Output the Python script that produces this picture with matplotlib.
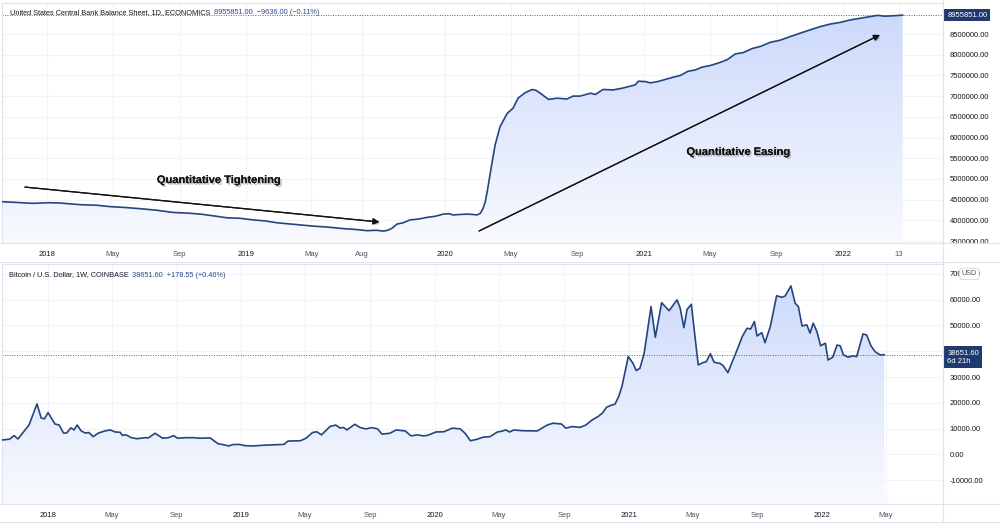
import matplotlib
matplotlib.use('Agg')
import matplotlib.pyplot as plt
import matplotlib.patheffects as pe
from matplotlib.lines import Line2D
from matplotlib.ticker import FuncFormatter
from matplotlib.transforms import Bbox, TransformedBbox
import numpy as np
import pandas as pd

plt.rcParams['font.family'] = ['Liberation Sans', 'DejaVu Sans']

# Fed balance sheet (1D, ECONOMICS), millions USD
fed_dates = ['2017-10-10', '2017-11-08', '2017-12-06', '2018-01-03', '2018-01-25', '2018-03-03',
             '2018-04-01', '2018-04-27', '2018-05-24', '2018-06-21', '2018-07-20', '2018-08-20',
             '2018-09-15', '2018-10-09', '2018-11-01', '2018-11-27', '2018-12-20', '2019-01-14',
             '2019-02-05', '2019-02-27', '2019-04-01', '2019-05-04', '2019-06-01', '2019-06-28',
             '2019-07-20', '2019-08-11', '2019-08-28', '2019-09-10', '2019-09-18', '2019-09-26',
             '2019-10-05', '2019-10-16', '2019-10-29', '2019-11-13', '2019-11-29', '2019-12-15',
             '2019-12-29', '2020-01-08', '2020-01-16', '2020-01-28', '2020-02-11', '2020-02-22',
             '2020-02-29', '2020-03-06', '2020-03-11', '2020-03-15', '2020-03-19', '2020-03-26',
             '2020-04-02', '2020-04-11', '2020-04-24', '2020-05-05', '2020-05-14', '2020-05-27',
             '2020-06-09', '2020-06-16', '2020-06-24', '2020-07-09', '2020-07-25', '2020-08-12',
             '2020-08-23', '2020-09-05', '2020-09-24', '2020-10-03', '2020-10-17', '2020-11-05',
             '2020-11-21', '2020-12-06', '2020-12-15', '2020-12-21', '2021-01-03', '2021-01-12',
             '2021-01-25', '2021-02-05', '2021-02-21', '2021-03-08', '2021-03-22', '2021-04-04',
             '2021-04-17', '2021-05-02', '2021-05-17', '2021-06-02', '2021-06-17', '2021-07-01',
             '2021-07-18', '2021-08-02', '2021-08-20', '2021-09-07', '2021-09-26', '2021-10-14',
             '2021-11-01', '2021-11-20', '2021-12-08', '2021-12-26', '2022-01-14', '2022-02-01',
             '2022-02-19', '2022-03-05', '2022-03-18', '2022-04-02', '2022-04-20']
fed_values = [4449000, 4430000, 4410000, 4425000, 4418000, 4377000,
              4365000, 4330000, 4310000, 4280000, 4245000, 4190000,
              4175000, 4150000, 4110000, 4060000, 4050000, 4010000,
              3985000, 3940000, 3900000, 3860000, 3835000, 3800000,
              3780000, 3750000, 3760000, 3740000, 3760000, 3810000,
              3910000, 3940000, 4010000, 4030000, 4070000, 4100000,
              4150000, 4160000, 4130000, 4140000, 4150000, 4140000,
              4130000, 4170000, 4290000, 4450000, 4730000, 5290000,
              5820000, 6260000, 6580000, 6710000, 6950000, 7080000,
              7160000, 7140000, 7070000, 6920000, 6950000, 6930000,
              7000000, 7000000, 7070000, 7040000, 7160000, 7150000,
              7190000, 7240000, 7270000, 7360000, 7350000, 7320000,
              7350000, 7390000, 7450000, 7500000, 7600000, 7630000,
              7700000, 7740000, 7800000, 7880000, 8020000, 8050000,
              8150000, 8200000, 8300000, 8350000, 8440000, 8520000,
              8600000, 8680000, 8740000, 8780000, 8840000, 8880000,
              8920000, 8950000, 8930000, 8940000, 8955851]

# Bitcoin / USD (1W, COINBASE)
btc_dates = ['2017-10-06', '2017-10-20', '2017-10-29', '2017-11-05', '2017-11-14', '2017-11-26',
             '2017-12-11', '2017-12-19', '2017-12-25', '2018-01-01', '2018-01-14', '2018-01-22',
             '2018-01-30', '2018-02-05', '2018-02-13', '2018-02-19', '2018-02-25', '2018-03-04',
             '2018-03-12', '2018-03-19', '2018-03-27', '2018-04-06', '2018-04-18', '2018-04-28',
             '2018-05-08', '2018-05-17', '2018-05-21', '2018-05-28', '2018-06-07', '2018-06-18',
             '2018-07-04', '2018-07-09', '2018-07-22', '2018-08-05', '2018-08-16', '2018-08-26',
             '2018-09-02', '2018-09-18', '2018-10-04', '2018-10-12', '2018-11-03', '2018-11-18',
             '2018-11-25', '2018-12-08', '2018-12-15', '2018-12-27', '2019-01-08', '2019-01-23',
             '2019-02-14', '2019-03-22', '2019-03-30', '2019-04-22', '2019-05-03', '2019-05-15',
             '2019-05-23', '2019-06-01', '2019-06-17', '2019-06-28', '2019-07-06', '2019-07-12',
             '2019-07-19', '2019-08-03', '2019-08-13', '2019-08-24', '2019-09-04', '2019-09-15',
             '2019-09-23', '2019-10-08', '2019-10-20', '2019-11-06', '2019-11-17', '2019-11-29',
             '2019-12-10', '2019-12-18', '2020-01-03', '2020-01-18', '2020-02-03', '2020-02-18',
             '2020-02-27', '2020-03-08', '2020-03-21', '2020-04-01', '2020-04-14', '2020-04-28',
             '2020-05-06', '2020-05-14', '2020-05-21', '2020-05-29', '2020-06-14', '2020-07-12',
             '2020-07-31', '2020-08-11', '2020-08-27', '2020-09-04', '2020-09-16', '2020-10-01',
             '2020-10-12', '2020-10-24', '2020-11-04', '2020-11-12', '2020-11-20', '2020-11-28',
             '2020-12-06', '2020-12-13', '2020-12-19', '2020-12-31', '2021-01-09', '2021-01-15',
             '2021-01-22', '2021-01-30', '2021-02-12', '2021-02-20', '2021-02-25', '2021-03-04',
             '2021-03-18', '2021-04-02', '2021-04-08', '2021-04-15', '2021-04-21', '2021-04-29',
             '2021-05-12', '2021-05-21', '2021-05-27', '2021-06-04', '2021-06-11', '2021-06-22',
             '2021-06-28', '2021-07-07', '2021-07-23', '2021-08-03', '2021-08-12', '2021-08-19',
             '2021-08-26', '2021-08-31', '2021-09-09', '2021-09-15', '2021-09-25', '2021-10-07',
             '2021-10-17', '2021-10-23', '2021-11-03', '2021-11-11', '2021-11-17', '2021-11-24',
             '2021-12-03', '2021-12-09', '2021-12-15', '2021-12-22', '2021-12-29', '2022-01-07',
             '2022-01-12', '2022-01-21', '2022-01-29', '2022-02-04', '2022-02-10', '2022-02-19',
             '2022-02-28', '2022-03-07', '2022-03-19', '2022-03-26', '2022-04-03', '2022-04-11',
             '2022-04-20', '2022-04-28']
btc_values = [5600, 5900, 7300, 6000, 8300, 11400,
              19600, 14100, 13800, 16200, 11800, 11400,
              8300, 8300, 10300, 9500, 11400, 9200,
              8300, 8500, 6900, 8300, 9100, 9500,
              8700, 8600, 7400, 7600, 6500, 6100,
              6500, 6400, 8200, 6300, 6500, 7300,
              6300, 6500, 6500, 6300, 6400, 4100,
              3900, 3300, 3800, 3900, 3400, 3300,
              3600, 3900, 5200, 5300, 6300, 8500,
              8800, 7600, 10800, 11400, 10200, 10500,
              9500, 11700, 10400, 9900, 10400, 9900,
              7900, 8200, 9500, 9100, 7200, 7600,
              7200, 7400, 8700, 8800, 10200, 9900,
              8200, 5300, 5900, 6700, 6900, 8700,
              9000, 9500, 8700, 9500, 9200, 9100,
              11400, 12100, 11800, 10200, 10800, 10500,
              11400, 13400, 14700, 16000, 18300, 19000,
              19500, 22500, 26300, 37900, 35300, 32500,
              33400, 39200, 57300, 45400, 50900, 58800,
              55700, 59900, 56700, 49100, 56200, 58200,
              34700, 35600, 35900, 39000, 35700, 35300,
              34400, 31700, 39800, 45600, 48900, 48600,
              51500, 45900, 47200, 43300, 49500, 61500,
              60900, 61400, 65300, 58600, 57300, 49800,
              50200, 47000, 50900, 47600, 42100, 43100,
              36600, 37700, 42400, 42100, 38600, 37700,
              38200, 37900, 46700, 46300, 42100, 39800,
              38600, 38651.6]

top_ticks = ['2018-01-01', '2018-05-01', '2018-09-01', '2019-01-01', '2019-05-01', '2019-08-01',
             '2020-01-01', '2020-05-01', '2020-09-01', '2021-01-01', '2021-05-01', '2021-09-01',
             '2022-01-01', '2022-04-13']
top_labels = ['2018', 'May', 'Sep', '2019', 'May', 'Aug', '2020', 'May', 'Sep', '2021', 'May', 'Sep', '2022', '13']
bot_ticks = ['2018-01-01', '2018-05-01', '2018-09-01', '2019-01-01', '2019-05-01', '2019-09-01',
             '2020-01-01', '2020-05-01', '2020-09-01', '2021-01-01', '2021-05-01', '2021-09-01',
             '2022-01-01', '2022-05-01']
bot_labels = ['2018', 'May', 'Sep', '2019', 'May', 'Sep', '2020', 'May', 'Sep', '2021', 'May', 'Sep', '2022', 'May']
fed_yticks = [3500000, 4000000, 4500000, 5000000, 5500000, 6000000, 6500000, 7000000, 7500000, 8000000, 8500000]
btc_yticks = [-10000, 0, 10000, 20000, 30000, 40000, 50000, 60000, 70000]

LINE = '#24467f'
GRID = '#f0f3fa'
BORDER = '#e0e3eb'
TXT = '#131722'
TOP_FILL = (0.79, 0.845, 0.98)
BOT_FILL = (0.975, 0.98, 1.0)
FS = 5.5

fig = plt.figure(figsize=(10, 5.26), dpi=100)
fig.patch.set_facecolor('white')
H = 526.0
ax1 = fig.add_axes([0.002, 1 - 243 / H, 0.941, 240 / H])
ax2 = fig.add_axes([0.002, 1 - 504 / H, 0.941, 240 / H])


def gradient_area(ax, x, y, ymin):
    poly = ax.fill_between(x, y, ymin, facecolor='none', edgecolor='none')
    path = poly.get_paths()[0]
    g = np.linspace(0, 1, 256).reshape(-1, 1)
    cols = np.array(TOP_FILL) * (1 - g) + np.array(BOT_FILL) * g
    x0, x1 = ax.get_xlim()
    y0, y1 = ax.get_ylim()
    im = ax.imshow(cols.reshape(256, 1, 3), aspect='auto', extent=[x0, x1, y0, y1],
                   origin='upper', zorder=1, interpolation='bilinear')
    im.set_clip_path(path, transform=ax.transData)
    ax.set_xlim(x0, x1)
    ax.set_ylim(y0, y1)


def price_fmt(v, p):
    # the 40000 label sits under the last-price badge in the reference
    if v == 40000:
        return ''
    return f'{v:.2f}'


def style_axes(ax, ticks, labels, yticks):
    ax.set_xticks(pd.to_datetime(ticks))
    ax.set_xticklabels(labels)
    ax.set_yticks(yticks)
    ax.yaxis.tick_right()
    ax.yaxis.set_major_formatter(FuncFormatter(price_fmt))
    ax.tick_params(axis='x', length=0, pad=5.5, labelsize=FS, labelcolor=TXT)
    ax.tick_params(axis='y', length=0, pad=5, labelsize=FS, labelcolor=TXT)
    ax.grid(True, color=GRID, lw=0.8, zorder=0)
    ax.set_axisbelow(True)
    for s in ax.spines.values():
        s.set_color(BORDER)
        s.set_linewidth(0.8)
    for lbl in ax.get_xticklabels():
        if not lbl.get_text()[:2] == '20':
            lbl.set_color('#50535e')


fd = pd.to_datetime(fed_dates)
bd = pd.to_datetime(btc_dates)

# top: balance sheet
ax1.set_xlim(pd.Timestamp('2017-10-10'), pd.Timestamp('2022-07-03'))
ax1.set_ylim(3452000, 9249000)
gradient_area(ax1, fd, fed_values, 3452000)
ax1.plot(fd, fed_values, color=LINE, lw=1.2, zorder=3)
ax1.axhline(fed_values[-1], color='#4a66a0', lw=0.7, ls=(0, (1, 1.5)), zorder=2)
style_axes(ax1, top_ticks, top_labels, fed_yticks)

# bottom: bitcoin
ax2.set_xlim(pd.Timestamp('2017-10-06'), pd.Timestamp('2022-08-17'))
ax2.set_ylim(-19200, 73800)
gradient_area(ax2, bd, btc_values, -19200)
ax2.plot(bd, btc_values, color=LINE, lw=1.2, zorder=3)
ax2.axhline(btc_values[-1], color='#4a66a0', lw=0.7, ls=(0, (1, 1.5)), zorder=2)
style_axes(ax2, bot_ticks, bot_labels, btc_yticks)

# clip price-scale labels to their own pane
for ax, (yb, yt) in ((ax1, (243, 0)), (ax2, (504, 262))):
    cb = TransformedBbox(Bbox([[0.94, 1 - yb / H], [1.0, 1 - yt / H]]), fig.transFigure)
    for lbl in ax.get_yticklabels():
        lbl.set_clip_box(cb)
        lbl.set_clip_on(True)

# headers
t1 = ax1.text(0.008, 0.962, 'United States Central Bank Balance Sheet, 1D, ECONOMICS',
              transform=ax1.transAxes, fontsize=5.3, color=TXT, va='center', ha='left', zorder=5)
ax1.annotate('  8955851.00  \u22129636.00 (\u22120.11%)', xy=(1, 0), xycoords=t1,
             fontsize=5.3, color='#2a4a86', va='bottom', ha='left', zorder=5)
t2 = ax2.text(0.007, 0.954, 'Bitcoin / U.S. Dollar, 1W, COINBASE',
              transform=ax2.transAxes, fontsize=5.3, color=TXT, va='center', ha='left', zorder=5)
ax2.annotate('  38651.60  +178.55 (+0.46%)', xy=(1, 0), xycoords=t2,
             fontsize=5.3, color='#2a4a86', va='bottom', ha='left', zorder=5)

# price badges
ax1.annotate('8955851.00', xy=(1.0, fed_values[-1]), xycoords=('axes fraction', 'data'),
             xytext=(3, 0), textcoords='offset points', ha='left', va='center',
             fontsize=FS, color='white', annotation_clip=False,
             bbox=dict(boxstyle='square,pad=0.35', fc='#1e3a6e', ec='none'))
ax2.annotate('38651.60\n6d 21h', xy=(1.0, btc_values[-1]), xycoords=('axes fraction', 'data'),
             xytext=(3, 3.5), textcoords='offset points', ha='left', va='top',
             fontsize=FS, color='white', annotation_clip=False, linespacing=1.15,
             bbox=dict(boxstyle='square,pad=0.45', fc='#1e3a6e', ec='none'))
ax2.annotate('USD', xy=(1.0, 70000), xycoords=('axes fraction', 'data'),
             xytext=(19, 0), textcoords='offset points', ha='center', va='center',
             fontsize=5.2, color='#50535e', annotation_clip=False,
             bbox=dict(boxstyle='round,pad=0.3,rounding_size=0.4', fc='white', ec='#d1d4dc', lw=0.6))

# annotations
shadow = [pe.withSimplePatchShadow(offset=(1.2, -1.2), shadow_rgbFace='#8a8a8a', alpha=0.55), pe.Normal()]
ax1.annotate('', xy=(0.401, 0.0875), xytext=(0.0244, 0.233), xycoords='axes fraction',
             arrowprops=dict(arrowstyle='-|>', color='#111111', lw=0.9, mutation_scale=9,
                             shrinkA=0, shrinkB=0, path_effects=shadow), zorder=6)
ax1.annotate('', xy=(0.933, 0.867), xytext=(0.507, 0.05), xycoords='axes fraction',
             arrowprops=dict(arrowstyle='-|>', color='#111111', lw=0.9, mutation_scale=9,
                             shrinkA=0, shrinkB=0, path_effects=shadow), zorder=6)
ax1.text(0.231, 0.262, 'Quantitative Tightening', transform=ax1.transAxes, ha='center', va='center',
         fontsize=8, fontweight='bold', color='#111111', path_effects=shadow, zorder=6)
ax1.text(0.783, 0.379, 'Quantitative Easing', transform=ax1.transAxes, ha='center', va='center',
         fontsize=8, fontweight='bold', color='#111111', path_effects=shadow, zorder=6)

# pane borders
for yy in (243, 262, 504, 522):
    fig.add_artist(Line2D([0, 1], [1 - yy / H, 1 - yy / H], color=BORDER, lw=0.8))
fig.add_artist(Line2D([0.943, 0.943], [1 - 522 / H, 1], color=BORDER, lw=0.8))

fig.savefig('out.png', dpi=100, facecolor='white')
